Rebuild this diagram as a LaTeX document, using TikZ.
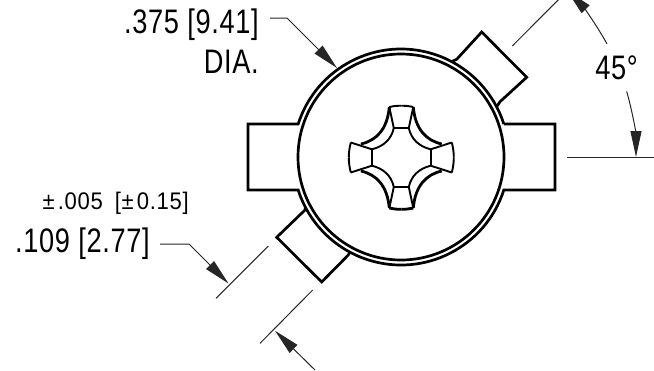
\documentclass[tikz,border=0pt]{standalone}
\usepackage{fontspec}
\setmainfont[FakeStretch=0.8,LetterSpace=2]{Liberation Sans}
\newfontfamily\tolfont[FakeStretch=0.92,LetterSpace=3]{Liberation Sans}
\usetikzlibrary{arrows.meta}
\tikzset{
  outline/.style={line width=2.7pt,line join=miter,black},
  thin line/.style={line width=1pt,black!85},
  leader/.style={line width=1pt,black!85,-{Triangle[length=26pt,width=11pt]}},
  recess/.style={line width=1.9pt,black},
  recess heavy/.style={line width=2.8pt,black},
  big label/.style={font=\fontsize{34}{34}\selectfont,inner sep=0pt,anchor=base east},
  small label/.style={font=\tolfont\fontsize{24}{24}\selectfont,inner sep=0pt,anchor=base east}
}
\begin{document}
\begin{tikzpicture}[x=1pt,y=-1pt]
\useasboundingbox (0,0) rectangle (654,370);
\clip (0,0) rectangle (654,370);
\coordinate (c) at (401,157);
% inner circle
\draw[line width=2.7pt] (c) circle[radius=103];
% outer circle with straight tabs
\draw[outline]
  ([shift={(-17.8:108)}]c) -- (555,124) -- (555,190) -- ([shift={(17.8:108)}]c)
  arc[start angle=17.8,end angle=162.2,radius=108]
  -- (248,190) -- (248,124) -- ([shift={(197.8:108)}]c)
  arc[start angle=197.8,end angle=342.2,radius=108];
% diagonal tabs standing on the outer circle
\draw[outline] ([shift={(-27.7:108)}]c) -- (500,101.7) -- (526.7,77.3) -- (481.7,32) -- (456.7,59.3) -- ([shift={(-62:108)}]c);
\draw[outline] ([shift={(118.3:108)}]c) -- (348.3,255) -- (321.7,282) -- (276.7,237.3) -- (305,210) -- ([shift={(152.3:108)}]c);
% cross recess: one quadrant mirrored
\begin{scope}[shift={(401.3,157.5)}]
  \foreach \sx/\sy in {1/1,-1/1,1/-1,-1/-1}{
    \begin{scope}[xscale=\sx,yscale=\sy]
      \draw[recess] (7.5,-29.5) -- (12,-50.5);
      \draw[recess] (29.4,-8.2) -- (50.5,-15);
      \draw[recess] (7.5,-29.5) .. controls (10,-18) and (18,-11) .. (29.4,-8.2);
      \draw[recess] (7.5,-29.5) -- (0,-29.5);
      \draw[recess] (29.4,-8.2) -- (29.4,0);
      \draw[recess heavy] (12,-50.5) .. controls (14,-28) and (25,-17) .. (40.4,-13.5);
      \draw[recess] (50.5,-15) .. controls (51.8,-10) and (52.5,-5) .. (52.5,0);
    \end{scope}
  }
  \foreach \sx in {1,-1}{
    \draw[recess] (12*\sx,-50.5) .. controls (6*\sx,-51.8) and (3*\sx,-51.8) .. (0,-51.8);
    \draw[recess heavy] (12*\sx,50.5) .. controls (6*\sx,51.8) and (3*\sx,51.8) .. (0,51.8);
  }
\end{scope}
% extension lines
\coordinate (e1a) at (512.3,46);
\coordinate (e1b) at (567,-9);
\draw[thin line] (e1a) -- (e1b);
\coordinate (e2a) at (567,157);
\coordinate (e2b) at (654,157);
\draw[thin line] (e2a) -- (e2b);
\coordinate (e3a) at (268.3,246);
\coordinate (e3b) at (216,298.3);
\draw[thin line] (e3a) -- (e3b);
\coordinate (e4a) at (312.7,290);
\coordinate (e4b) at (260,343.3);
\draw[thin line] (e4a) -- (e4b);
% labels
\node[big label] (dia) at (259,33) {.375 [9.41]};
\node[big label] (dial) at (259,73) {DIA.};
\node[big label] (ang) at (638,79) {45°};
\node[small label] (tol) at (189,209) {±\hspace{3pt}.005\hspace{5pt} [±\hspace{3pt}0.15]};
\node[big label] (wid) at (150,252) {.109 [2.77]};
% leaders
\coordinate (l1) at (270,18);
\coordinate (l1k) at (287,18);
\coordinate (l1t) at (337,68);
\draw[leader] (l1) -- (l1k) -- (l1t);
\coordinate (l2) at (160,244);
\coordinate (l2k) at (189,244);
\coordinate (l2t) at (228.5,283.5);
\draw[leader] (l2) -- (l2k) -- (l2t);
\coordinate (l3) at (315,370);
\coordinate (l3t) at (275,330.7);
\draw[leader] (l3) -- (l3t);
% angle arcs
\draw[leader] ([shift={(-28.8:235)}]c) arc[start angle=-28.8,end angle=-45,radius=235];
\draw[leader] ([shift={(-16.2:235)}]c) arc[start angle=-16.2,end angle=0,radius=235];
\end{tikzpicture}
\end{document}
